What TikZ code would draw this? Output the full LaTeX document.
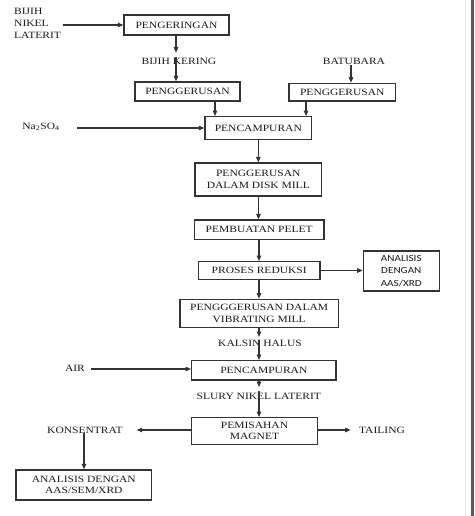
\documentclass[tikz,border=0pt]{standalone}
\usepackage{fontspec}
\setmainfont{Liberation Serif}[FakeStretch=1.2]
\newfontfamily\sansf{Carlito}[FakeStretch=1.2]
\usetikzlibrary{arrows.meta}
\definecolor{ln}{HTML}{333333}
\definecolor{tx}{HTML}{1A1A1A}
\tikzset{
  box/.style={draw=ln, line width=1.3pt, inner sep=0pt, align=center, text=tx,
    font=\fontsize{9.6}{11.7}\selectfont},
  lbl/.style={inner sep=0pt, align=center, text=tx, font=\fontsize{9.6}{11.7}\selectfont},
  arr/.style={draw=ln, line width=1.2pt, -{Triangle[length=5.5pt,width=4.5pt]}},
  ln/.style={draw=ln, line width=1.2pt}
}
\begin{document}
\begin{tikzpicture}[x=1pt,y=-1pt]
\useasboundingbox (0,0) rectangle (474,516);
\fill[white] (0,0) rectangle (474,516);
\fill[black!65] (471,0) rectangle (474,516);
\draw[black!10, line width=0.6pt] (465,0) -- (465,516);

% nodes
\node[lbl, align=left, anchor=west] (bnl) at (14,23.5) {BIJIH\\NIKEL\\LATERIT};
\node[box, minimum width=105pt, minimum height=20pt] (peng) at (176.5,25) {PENGERINGAN};
\node[lbl] (bk) at (179,61.7) {BIJIH KERING};
\node[box, minimum width=105pt, minimum height=19pt] (g1) at (187.5,91.5) {PENGGERUSAN};
\node[lbl] (bb) at (354,61.7) {BATUBARA};
\node[box, minimum width=106.7pt, minimum height=17.7pt] (g2) at (342.3,92.2) {PENGGERUSAN};
\node[box, minimum width=106.7pt, minimum height=22.6pt] (mix1) at (258.3,128) {PENCAMPURAN};
\node[lbl] (na) at (41,127) {Na\textsubscript{2}SO\textsubscript{4}};
\node[box, minimum width=126.7pt, minimum height=33pt] (disk) at (258.3,179.5) {PENGGERUSAN\\DALAM DISK MILL};
\node[box, minimum width=129.7pt, minimum height=19.3pt] (pelet) at (259.2,229.7) {PEMBUATAN PELET};
\node[box, minimum width=121.7pt, minimum height=17.6pt] (red) at (259.2,270.5) {PROSES REDUKSI};
\node[box, minimum width=76pt, minimum height=40pt, font=\sansf\fontsize{9.3}{12.5}\selectfont] (an1) at (401.3,271) {ANALISIS\\DENGAN\\AAS/XRD};
\node[box, minimum width=158.3pt, minimum height=28pt] (vib) at (259.2,313.3) {PENGGGERUSAN DALAM\\VIBRATING MILL};
\node[lbl] (kh) at (260,343.3) {KALSIN HALUS};
\node[box, minimum width=144.3pt, minimum height=19.3pt] (mix2) at (263.8,370.3) {PENCAMPURAN};
\node[lbl] (air) at (75,368.3) {AIR};
\node[lbl] (sl) at (258.8,396) {SLURY NIKEL LATERIT};
\node[box, minimum width=125.6pt, minimum height=26.6pt] (sep) at (254.5,431) {PEMISAHAN\\MAGNET};
\node[lbl] (kon) at (85,430) {KONSENTRAT};
\node[lbl] (tail) at (382,430) {TAILING};
\node[box, minimum width=135.7pt, minimum height=30pt] (an2) at (83.8,485) {ANALISIS DENGAN\\AAS/SEM/XRD};

% free-end coordinates
\coordinate (bnlE) at (63.3,25);
\coordinate (bkT) at (176,52.7);
\coordinate (bkM) at (176,57);
\coordinate (naE) at (77,128);
\coordinate (khT) at (259,337);
\coordinate (khM) at (259,340);
\coordinate (airE) at (90.7,369);
\coordinate (slT) at (259,387);
\coordinate (slM) at (259,391);
\coordinate (konE) at (136.7,430);
\coordinate (tailW) at (350.7,430);

% connectors
\draw[arr] (bnlE) -- (peng.west |- bnlE);
\draw[arr] (peng.south -| bkT) -- (bkT);
\draw[arr] (bkM) -- (g1.north -| bkM);
\draw[arr] (bb.south -| 351,0) -- (g2.north -| 351,0);
\draw[arr] (g1.south -| 215,0) -- (mix1.north -| 215,0);
\draw[arr] (g2.south -| 306,0) -- (mix1.north -| 306,0);
\draw[arr] (naE) -- (mix1.west |- naE);
\draw[arr] (mix1.south -| 258.3,0) -- (disk.north -| 258.3,0);
\draw[arr] (disk.south -| 258.5,0) -- (pelet.north -| 258.5,0);
\draw[arr] (pelet.south -| 259,0) -- (red.north -| 259,0);
\draw[arr] (red.east) -- (an1.west |- red.east);
\draw[arr] (red.south -| 259,0) -- (vib.north -| 259,0);
\draw[arr] (vib.south -| khT) -- (khT);
\draw[arr] (khM) -- (mix2.north -| khM);
\draw[arr] (airE) -- (mix2.west |- airE);
\draw[arr] (mix2.south -| slT) -- (slT);
\draw[arr] (slM) -- (sep.north -| slM);
\draw[arr] (sep.west |- konE) -- (konE);
\draw[arr] (sep.east |- tailW) -- (tailW);
\draw[arr] (kon.south -| 84,0) -- (an2.north -| 84,0);
\end{tikzpicture}
\end{document}
